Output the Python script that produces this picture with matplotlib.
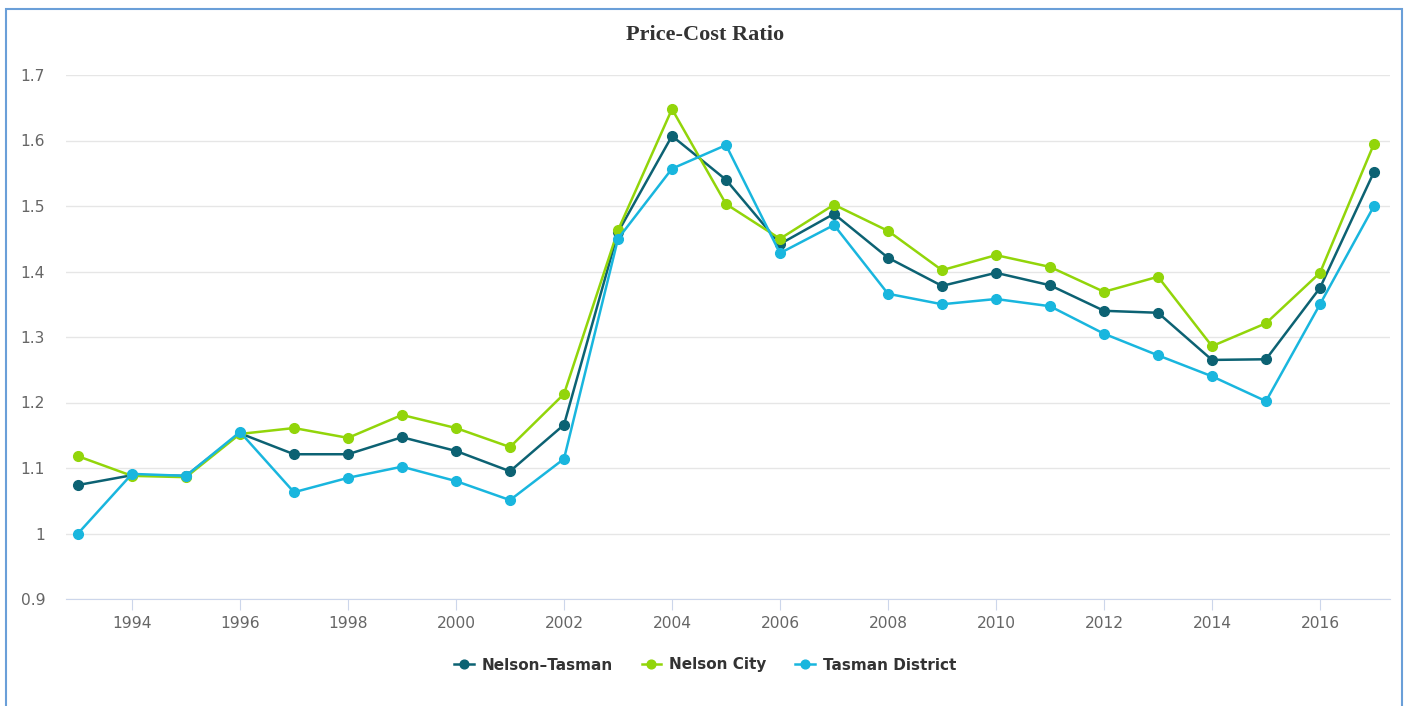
import matplotlib.pyplot as plt
from matplotlib.patches import Rectangle
from matplotlib.ticker import FuncFormatter

years = list(range(1993, 2018))

nelson_tasman = [1.074, 1.089, 1.088, 1.153, 1.121, 1.121, 1.147, 1.126, 1.095, 1.166,
                 1.460, 1.607, 1.540, 1.442, 1.488, 1.421, 1.378, 1.398, 1.379, 1.340,
                 1.337, 1.265, 1.266, 1.375, 1.552]
nelson_city = [1.118, 1.088, 1.086, 1.152, 1.161, 1.146, 1.181, 1.161, 1.132, 1.213,
               1.463, 1.648, 1.503, 1.450, 1.502, 1.462, 1.402, 1.425, 1.407, 1.369,
               1.392, 1.286, 1.321, 1.398, 1.595]
tasman_district = [1.000, 1.091, 1.088, 1.155, 1.063, 1.085, 1.102, 1.080, 1.051, 1.114,
                   1.450, 1.557, 1.593, 1.428, 1.471, 1.366, 1.350, 1.358, 1.347, 1.305,
                   1.272, 1.240, 1.202, 1.350, 1.500]

series = [
    ("Nelson\u2013Tasman", nelson_tasman, "#0c6273"),
    ("Nelson City", nelson_city, "#92d50a"),
    ("Tasman District", tasman_district, "#19b6de"),
]

W, H = 1405, 706
fig = plt.figure(figsize=(W / 100, H / 100), dpi=100)
ax = fig.add_axes([66 / W, 1 - 599 / H, (1390 - 66) / W, (599 - 75) / H])

for name, vals, col in series:
    ax.plot(years, vals, color=col, lw=1.8, marker="o", ms=7, label=name)

ax.set_ylim(0.9, 1.7)
ax.set_xlim(1993 - 12 / 54, 2017 + 16 / 54)
ax.set_yticks([0.9, 1.0, 1.1, 1.2, 1.3, 1.4, 1.5, 1.6, 1.7])
ax.yaxis.set_major_formatter(FuncFormatter(lambda v, p: "%g" % round(v, 1)))
ax.set_xticks(range(1994, 2017, 2))

ax.grid(axis="y", color="#e6e6e6", lw=1)
ax.set_axisbelow(True)
for s in ["top", "right", "left"]:
    ax.spines[s].set_visible(False)
ax.spines["bottom"].set_color("#ccd6eb")
ax.tick_params(axis="y", length=0, pad=15, labelsize=11.2, labelcolor="#666666")
ax.tick_params(axis="x", length=8, color="#ccd6eb", pad=4, labelsize=11.2, labelcolor="#666666")

fig.text(705 / W, 1 - 35 / H, "Price-Cost Ratio", ha="center", va="center",
         fontsize=16, fontweight="bold", family="Liberation Serif", color="#333333")

leg = fig.legend(loc="center", bbox_to_anchor=(705 / W, 1 - 665 / H), ncol=3,
                 frameon=False, prop={"weight": "bold", "size": 11}, handlelength=1.3,
                 columnspacing=1.9, handletextpad=0.5, markerscale=0.9)
for t in leg.get_texts():
    t.set_color("#333333")

fig.patches.append(Rectangle((6 / W, -0.05), (1402 - 6) / W, 1 - 9 / H + 0.05,
                             transform=fig.transFigure, fill=False,
                             edgecolor="#6a9fd8", lw=1.5))

fig.savefig("out.png", dpi=100)
